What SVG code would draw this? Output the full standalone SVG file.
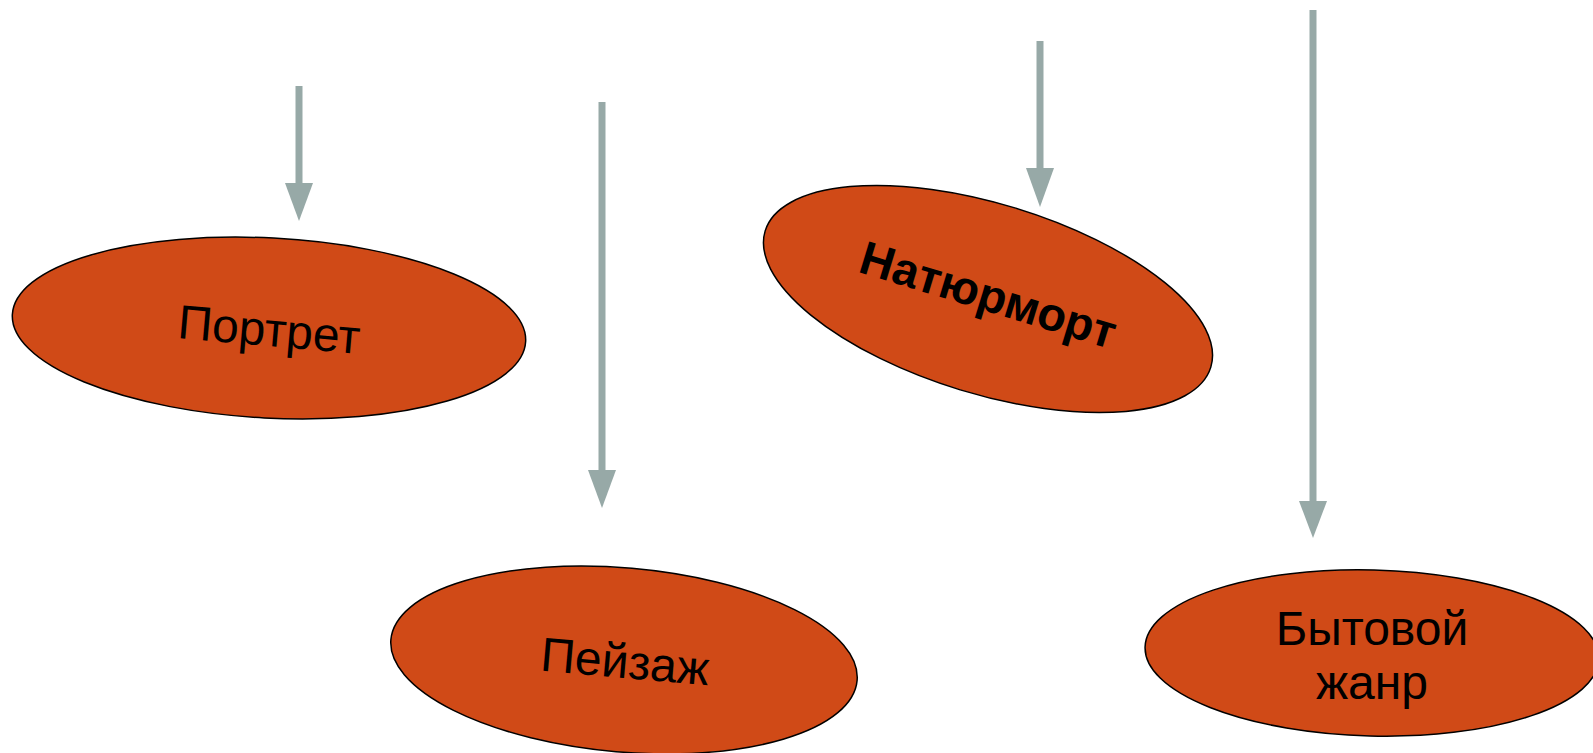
<svg xmlns="http://www.w3.org/2000/svg" width="1593" height="753" viewBox="0 0 1593 753">
<style>
.node ellipse{fill:#D04A17;stroke:#000;stroke-width:1.5}
.lbl{font-family:"Liberation Sans",Arial,sans-serif;font-size:48px;fill:#000;text-anchor:middle}
.bold{font-weight:bold;font-size:47px}
.conn line{stroke:#97A9A7;stroke-width:7}
.conn polygon{fill:#97A9A7}
</style>
<rect width="1593" height="753" fill="#fff"/>
<g id="connectors" class="conn">
<line x1="299" y1="86" x2="299" y2="186"/>
<polygon points="285,183 313,183 299,221"/>
<line x1="602" y1="102" x2="602" y2="473"/>
<polygon points="588,470 616,470 602,508"/>
<line x1="1040" y1="41" x2="1040" y2="171"/>
<polygon points="1026,168 1054,168 1040,207"/>
<line x1="1313" y1="10" x2="1313" y2="504"/>
<polygon points="1299,501 1327,501 1313,538"/>
</g>
<g id="portret" class="node">
<ellipse cx="269" cy="328" rx="257" ry="90" transform="rotate(3 269 328)"/>
<text class="lbl" x="269" y="346" transform="rotate(5 269 330)">Портрет</text>
</g>
<g id="natyurmort" class="node">
<ellipse cx="988" cy="299" rx="233" ry="95" transform="rotate(17 988 299)"/>
<text class="lbl bold" x="988" y="311" transform="rotate(17 988 296)">Натюрморт</text>
</g>
<g id="peyzazh" class="node">
<ellipse cx="624" cy="660" rx="234" ry="92" transform="rotate(5 624 660)"/>
<text class="lbl" x="625" y="678" transform="rotate(5 625 662)">Пейзаж</text>
</g>
<g id="bytovoy" class="node">
<ellipse cx="1372" cy="653" rx="227" ry="83" transform="rotate(1.5 1372 653)"/>
<text class="lbl" x="1372" y="645">Бытовой</text>
<text class="lbl" x="1372" y="699">жанр</text>
</g>
</svg>
